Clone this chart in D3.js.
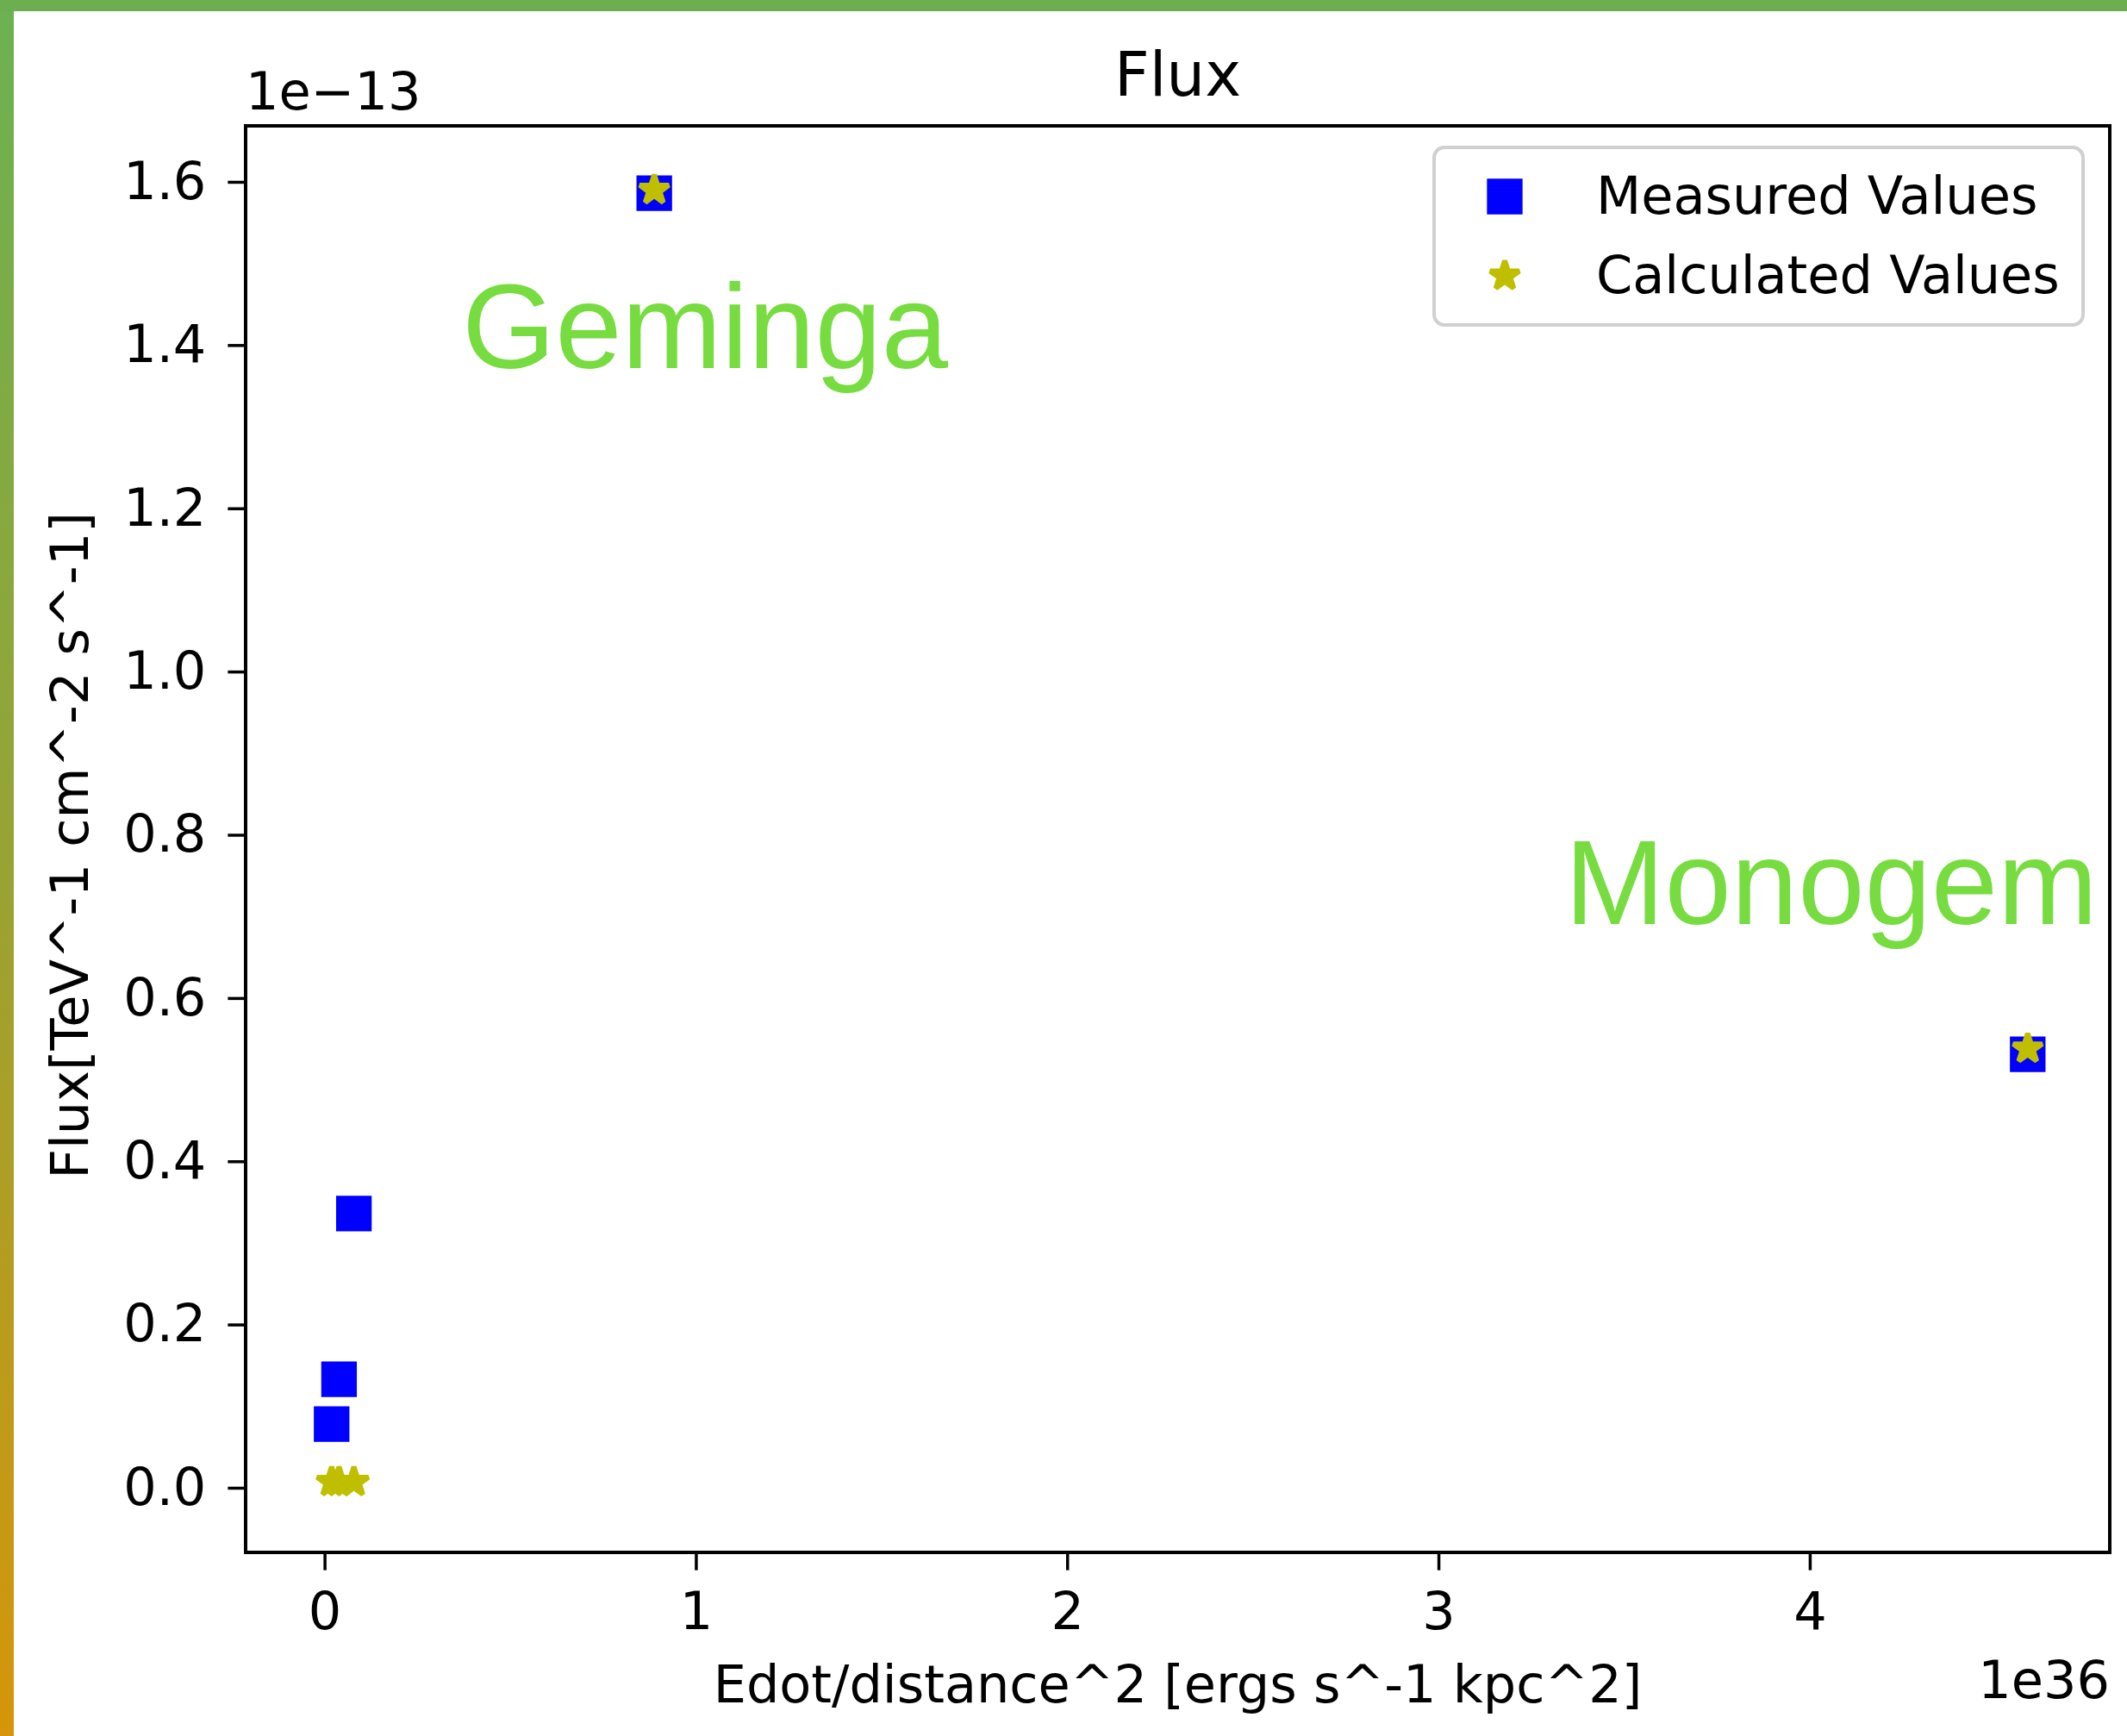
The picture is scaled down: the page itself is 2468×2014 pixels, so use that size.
<!DOCTYPE html>
<html>
<head>
<meta charset="utf-8">
<script src="https://cdn.jsdelivr.net/npm/d3@7"></script>
<style>
  body { margin: 0; background: #fff; }
  svg { display: block; }
</style>
</head>
<body>
<svg id="chart" width="2468" height="2014"></svg>
<script>
// Pulsar flux versus spin-down power over distance squared
const sources        = ["", "", "", "Geminga", "Monogem"];
const edotOverDist2  = [0.019, 0.039, 0.079, 0.888, 4.587];   // x 1e36 ergs s^-1 kpc^-2
const measuredFlux   = [0.078, 0.133, 0.336, 1.586, 0.531];   // x 1e-13 TeV^-1 cm^-2 s^-1
const calculatedFlux = [0.007, 0.007, 0.007, 1.590, 0.538];   // x 1e-13 TeV^-1 cm^-2 s^-1
const xTicks = [0, 1, 2, 3, 4];
const yTicks = [0.0, 0.2, 0.4, 0.6, 0.8, 1.0, 1.2, 1.4, 1.6];
const xDomain = [-0.2126, 4.808];
const yDomain = [-0.0792, 1.6686];
const seriesNames = ["Measured Values", "Calculated Values"];

// layout
const W = 2468, H = 2014;
const plot = { left: 285, right: 2448, top: 146, bottom: 1801 };
const pt = 5.9;                      // pixels per typographic point
const fontMain = "DejaVu Sans, Verdana, sans-serif";
const fs = 60.5;
const annColor = "#77dc40";

const svg = d3.select("#chart");

// slide frame: green top strip and green-to-amber left strip
const defs = svg.append("defs");
const grad = defs.append("linearGradient").attr("id", "edgeGrad")
  .attr("x1", 0).attr("y1", 0).attr("x2", 0).attr("y2", 1);
grad.append("stop").attr("offset", "0%").attr("stop-color", "#6cb152");
grad.append("stop").attr("offset", "50%").attr("stop-color", "#98a334");
grad.append("stop").attr("offset", "100%").attr("stop-color", "#d6950a");

svg.append("rect").attr("x", 0).attr("y", 0).attr("width", W).attr("height", H).attr("fill", "#fff");
svg.append("rect").attr("x", 0).attr("y", 0).attr("width", 16).attr("height", H).attr("fill", "url(#edgeGrad)");
svg.append("rect").attr("x", 0).attr("y", 0).attr("width", W).attr("height", 13).attr("fill", "#6cae50");

const x = d3.scaleLinear().domain(xDomain).range([plot.left, plot.right]);
const y = d3.scaleLinear().domain(yDomain).range([plot.bottom, plot.top]);

// axes
const tickLen = 3.5 * pt, tickPad = 25;
const xAxis = svg.append("g")
  .attr("transform", `translate(0,${plot.bottom})`)
  .call(d3.axisBottom(x).tickValues(xTicks).tickFormat(d3.format("d"))
    .tickSize(tickLen).tickSizeOuter(0).tickPadding(tickPad));
const yAxis = svg.append("g")
  .attr("transform", `translate(${plot.left},0)`)
  .call(d3.axisLeft(y).tickValues(yTicks).tickFormat(d3.format(".1f"))
    .tickSize(tickLen).tickSizeOuter(0).tickPadding(tickPad));

[xAxis, yAxis].forEach(g => {
  g.select(".domain").remove();
  g.selectAll(".tick line").attr("stroke", "#000").attr("stroke-width", 3.5);
  g.selectAll(".tick text").attr("fill", "#000")
    .style("font-family", fontMain).style("font-size", fs + "px");
});

// markers
const square = d3.symbol(d3.symbolSquare, Math.pow(6 * pt, 2));
const ka = 0.89081309152928522810;
const starR = 3 * pt;
const star = d3.symbol(d3.symbolStar, starR * starR / ka);

const idx = d3.range(edotOverDist2.length);

svg.append("g").selectAll("path").data(idx).join("path")
  .attr("d", square)
  .attr("transform", i => `translate(${x(edotOverDist2[i])},${y(measuredFlux[i])})`)
  .attr("fill", "#0000ff").attr("stroke", "#0000ff")
  .attr("stroke-width", pt).attr("stroke-linejoin", "miter");

svg.append("g").selectAll("path").data(idx).join("path")
  .attr("d", star)
  .attr("transform", i => `translate(${x(edotOverDist2[i])},${y(calculatedFlux[i])})`)
  .attr("fill", "#bfbf00").attr("stroke", "#bfbf00")
  .attr("stroke-width", pt).attr("stroke-linejoin", "bevel");

// axes frame
svg.append("rect")
  .attr("x", plot.left).attr("y", plot.top)
  .attr("width", plot.right - plot.left).attr("height", plot.bottom - plot.top)
  .attr("fill", "none").attr("stroke", "#000").attr("stroke-width", 4);

// title, axis labels, offset texts
const cx = (plot.left + plot.right) / 2;
svg.append("text").attr("x", cx).attr("y", 111).attr("text-anchor", "middle")
  .style("font-family", fontMain).style("font-size", (12 * pt) + "px").text("Flux");
svg.append("text").attr("x", plot.left).attr("y", 127).attr("text-anchor", "start")
  .style("font-family", fontMain).style("font-size", fs + "px").text("1e\u221213");
svg.append("text").attr("x", plot.right).attr("y", 1970).attr("text-anchor", "end")
  .style("font-family", fontMain).style("font-size", fs + "px").text("1e36");
svg.append("text").attr("x", cx).attr("y", 1975).attr("text-anchor", "middle")
  .style("font-family", fontMain).style("font-size", fs + "px")
  .text("Edot/distance^2 [ergs s^-1 kpc^2]");
svg.append("text").attr("transform", `translate(102,981) rotate(-90)`)
  .attr("text-anchor", "middle")
  .style("font-family", fontMain).style("font-size", fs + "px")
  .text("Flux[TeV^-1 cm^-2 s^-1]");

// legend
const lg = svg.append("g");
lg.append("rect").attr("x", 1664).attr("y", 171).attr("width", 753).attr("height", 206)
  .attr("rx", 12).attr("fill", "#fff").attr("fill-opacity", 0.8)
  .attr("stroke", "#d0d0d0").attr("stroke-width", 4);
const legendRows = [
  { name: seriesNames[0], sym: square, color: "#0000ff", join: "miter" },
  { name: seriesNames[1], sym: star, color: "#bfbf00", join: "bevel" }
];
legendRows.forEach((r, k) => {
  const ry = 228 + k * 92;
  lg.append("path").attr("d", r.sym).attr("transform", `translate(1746,${ry})`)
    .attr("fill", r.color).attr("stroke", r.color)
    .attr("stroke-width", pt).attr("stroke-linejoin", r.join);
  lg.append("text").attr("x", 1852).attr("y", ry + 20)
    .style("font-family", fontMain).style("font-size", fs + "px").text(r.name);
});

// source annotations
const annOffsets = { Geminga: [-223, 203], Monogem: [-537, -151] };
idx.filter(i => sources[i]).forEach(i => {
  const [dx, dy] = annOffsets[sources[i]];
  svg.append("text")
    .attr("x", x(edotOverDist2[i]) + dx)
    .attr("y", y(measuredFlux[i]) + dy)
    .attr("fill", annColor)
    .style("font-family", "Liberation Sans, Arial, Helvetica, sans-serif")
    .style("font-size", "139px")
    .text(sources[i]);
});
</script>
</body>
</html>
